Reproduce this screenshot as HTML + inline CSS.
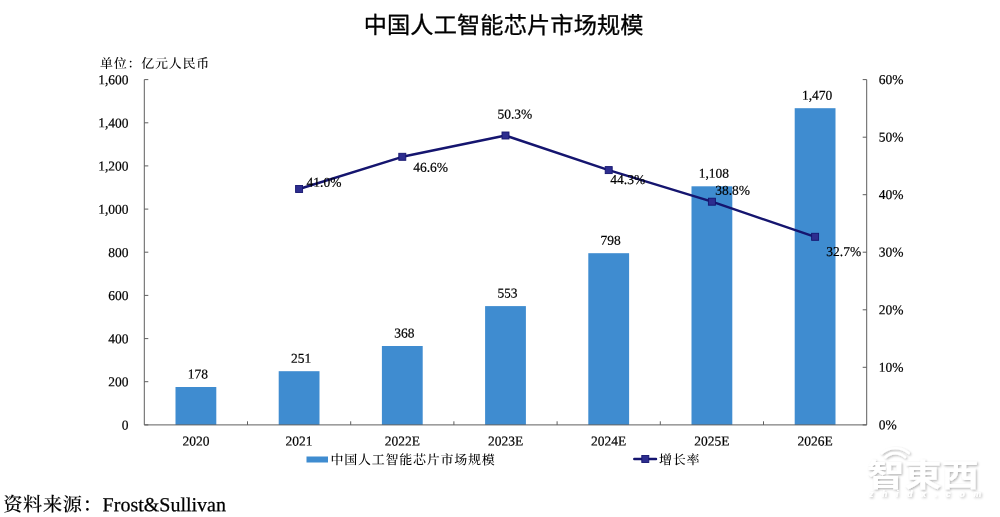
<!DOCTYPE html>
<html lang="zh"><head><meta charset="utf-8"><title>中国人工智能芯片市场规模</title>
<style>
html,body{margin:0;padding:0;background:#fff;}
body{width:1000px;height:517px;overflow:hidden;position:relative;}
svg{position:absolute;left:0;top:0;}
.n{font-family:"Liberation Serif","Noto Serif CJK SC",serif;font-size:13.5px;fill:#000;stroke:#000;stroke-width:0.2px;}
.c{font-family:"Liberation Serif","Noto Serif CJK SC",serif;font-size:13px;letter-spacing:0.75px;fill:#000;font-weight:500;}
.t{font-family:"Liberation Sans","Noto Sans CJK SC",sans-serif;font-weight:400;font-size:23.2px;fill:#000;stroke:#000;stroke-width:0.3px;letter-spacing:0.15px;}
.s{font-family:"Liberation Serif","Noto Serif CJK SC",serif;font-size:20px;fill:#000;}
.sc{font-size:19.2px;letter-spacing:0.7px;font-weight:500;stroke-width:0.1px;}
.s{stroke:#000;stroke-width:0.25px;}
.w{font-family:"Liberation Sans","Noto Sans CJK TC","Noto Sans CJK SC",sans-serif;font-weight:700;fill:#fff;}
</style></head><body>
<svg width="1000" height="517" viewBox="0 0 1000 517">
<defs><filter id="ds" x="-10%" y="-20%" width="125%" height="150%"><feDropShadow dx="1.2" dy="1.2" stdDeviation="1.1" flood-color="#000" flood-opacity="0.3"/></filter></defs>
<rect width="1000" height="517" fill="#fff"/>

<text class="t" x="503.7" y="33.4" text-anchor="middle" transform="rotate(0.03 503.7 33.4)">中国人工智能芯片市场规模</text>
<text class="c" x="100.0" y="68.0" transform="rotate(0.03 100.0 68.0)">单位：亿元人民币</text>
<rect x="175.5" y="387.0" width="40.8" height="37.9" fill="#3f8cd0"/>
<rect x="278.7" y="371.2" width="40.8" height="53.7" fill="#3f8cd0"/>
<rect x="381.9" y="346.0" width="40.8" height="78.9" fill="#3f8cd0"/>
<rect x="485.1" y="306.1" width="40.8" height="118.8" fill="#3f8cd0"/>
<rect x="588.3" y="253.2" width="40.8" height="171.7" fill="#3f8cd0"/>
<rect x="691.5" y="186.3" width="40.8" height="238.6" fill="#3f8cd0"/>
<rect x="794.7" y="108.2" width="40.8" height="316.7" fill="#3f8cd0"/>
<g stroke="#5e5e5e" stroke-width="1" fill="none">
<path d="M144.3 79.6V424.9H866.7V79.6"/>
<path d="M144.3 424.9h4"/>
<path d="M144.3 381.7h4"/>
<path d="M144.3 338.6h4"/>
<path d="M144.3 295.4h4"/>
<path d="M144.3 252.2h4"/>
<path d="M144.3 209.1h4"/>
<path d="M144.3 165.9h4"/>
<path d="M144.3 122.8h4"/>
<path d="M144.3 79.6h4"/>
<path d="M866.7 424.9h-4"/>
<path d="M866.7 367.3h-4"/>
<path d="M866.7 309.8h-4"/>
<path d="M866.7 252.2h-4"/>
<path d="M866.7 194.7h-4"/>
<path d="M866.7 137.2h-4"/>
<path d="M866.7 79.6h-4"/>
<path d="M247.5 424.9v-3.6"/>
<path d="M350.7 424.9v-3.6"/>
<path d="M453.9 424.9v-3.6"/>
<path d="M557.1 424.9v-3.6"/>
<path d="M660.3 424.9v-3.6"/>
<path d="M763.5 424.9v-3.6"/>
</g>
<text class="n" x="128.6" y="429.5" text-anchor="end" transform="rotate(0.03 128.6 429.5)">0</text>
<text class="n" x="128.6" y="386.3" text-anchor="end" transform="rotate(0.03 128.6 386.3)">200</text>
<text class="n" x="128.6" y="343.2" text-anchor="end" transform="rotate(0.03 128.6 343.2)">400</text>
<text class="n" x="128.6" y="300.0" text-anchor="end" transform="rotate(0.03 128.6 300.0)">600</text>
<text class="n" x="128.6" y="256.9" text-anchor="end" transform="rotate(0.03 128.6 256.9)">800</text>
<text class="n" x="128.6" y="213.7" text-anchor="end" transform="rotate(0.03 128.6 213.7)">1,000</text>
<text class="n" x="128.6" y="170.5" text-anchor="end" transform="rotate(0.03 128.6 170.5)">1,200</text>
<text class="n" x="128.6" y="127.4" text-anchor="end" transform="rotate(0.03 128.6 127.4)">1,400</text>
<text class="n" x="128.6" y="84.2" text-anchor="end" transform="rotate(0.03 128.6 84.2)">1,600</text>
<text class="n" x="878.8" y="429.3" transform="rotate(0.03 878.8 429.3)">0%</text>
<text class="n" x="878.8" y="371.7" transform="rotate(0.03 878.8 371.7)">10%</text>
<text class="n" x="878.8" y="314.2" transform="rotate(0.03 878.8 314.2)">20%</text>
<text class="n" x="878.8" y="256.6" transform="rotate(0.03 878.8 256.6)">30%</text>
<text class="n" x="878.8" y="199.1" transform="rotate(0.03 878.8 199.1)">40%</text>
<text class="n" x="878.8" y="141.6" transform="rotate(0.03 878.8 141.6)">50%</text>
<text class="n" x="878.8" y="84.0" transform="rotate(0.03 878.8 84.0)">60%</text>
<text class="n" x="195.9" y="445.6" text-anchor="middle" transform="rotate(0.03 195.9 445.6)">2020</text>
<text class="n" x="299.1" y="445.6" text-anchor="middle" transform="rotate(0.03 299.1 445.6)">2021</text>
<text class="n" x="402.3" y="445.6" text-anchor="middle" transform="rotate(0.03 402.3 445.6)">2022E</text>
<text class="n" x="505.5" y="445.6" text-anchor="middle" transform="rotate(0.03 505.5 445.6)">2023E</text>
<text class="n" x="608.7" y="445.6" text-anchor="middle" transform="rotate(0.03 608.7 445.6)">2024E</text>
<text class="n" x="711.9" y="445.6" text-anchor="middle" transform="rotate(0.03 711.9 445.6)">2025E</text>
<text class="n" x="815.1" y="445.6" text-anchor="middle" transform="rotate(0.03 815.1 445.6)">2026E</text>
<text class="n" x="197.9" y="378.5" text-anchor="middle" transform="rotate(0.03 197.9 378.5)">178</text>
<text class="n" x="301.1" y="362.7" text-anchor="middle" transform="rotate(0.03 301.1 362.7)">251</text>
<text class="n" x="404.3" y="337.5" text-anchor="middle" transform="rotate(0.03 404.3 337.5)">368</text>
<text class="n" x="507.5" y="297.6" text-anchor="middle" transform="rotate(0.03 507.5 297.6)">553</text>
<text class="n" x="610.7" y="244.7" text-anchor="middle" transform="rotate(0.03 610.7 244.7)">798</text>
<text class="n" x="713.9" y="177.8" text-anchor="middle" transform="rotate(0.03 713.9 177.8)">1,108</text>
<text class="n" x="817.1" y="99.7" text-anchor="middle" transform="rotate(0.03 817.1 99.7)">1,470</text>
<polyline fill="none" stroke="#15156f" stroke-width="2.45" stroke-linejoin="round" stroke-linecap="round" points="299.1,189.0 402.3,156.8 505.5,135.5 608.7,170.1 711.9,201.7 815.1,236.8"/>
<rect x="295.6" y="185.5" width="7" height="7" fill="#2d2d8f" stroke="#15156f" stroke-width="0.9"/>
<rect x="398.8" y="153.3" width="7" height="7" fill="#2d2d8f" stroke="#15156f" stroke-width="0.9"/>
<rect x="502.0" y="132.0" width="7" height="7" fill="#2d2d8f" stroke="#15156f" stroke-width="0.9"/>
<rect x="605.2" y="166.6" width="7" height="7" fill="#2d2d8f" stroke="#15156f" stroke-width="0.9"/>
<rect x="708.4" y="198.2" width="7" height="7" fill="#2d2d8f" stroke="#15156f" stroke-width="0.9"/>
<rect x="811.6" y="233.3" width="7" height="7" fill="#2d2d8f" stroke="#15156f" stroke-width="0.9"/>
<text class="n" x="306.6" y="186.7" transform="rotate(0.03 306.6 186.7)">41.0%</text>
<text class="n" x="413.2" y="171.8" transform="rotate(0.03 413.2 171.8)">46.6%</text>
<text class="n" x="497.4" y="118.6" transform="rotate(0.03 497.4 118.6)">50.3%</text>
<text class="n" x="610.3" y="184.0" transform="rotate(0.03 610.3 184.0)">44.3%</text>
<text class="n" x="715.2" y="194.7" transform="rotate(0.03 715.2 194.7)">38.8%</text>
<text class="n" x="826.3" y="256.0" transform="rotate(0.03 826.3 256.0)">32.7%</text>
<rect x="306.5" y="456.5" width="21.5" height="6" fill="#3f8cd0"/>
<text class="c" x="330.5" y="464.3" transform="rotate(0.03 330.5 464.3)">中国人工智能芯片市场规模</text>
<path d="M634.3 459H656" stroke="#15156f" stroke-width="2.45" stroke-linecap="round"/>
<rect x="641.8" y="455.5" width="7" height="7" fill="#2d2d8f" stroke="#15156f" stroke-width="0.9"/>
<text class="c" x="659.1" y="464.3" transform="rotate(0.03 659.1 464.3)">增长率</text>
<text class="s" x="3.2" y="511.1" transform="rotate(0.03 3.2 511.1)"><tspan class="sc">资料来源：</tspan><tspan x="102.6">Frost&amp;Sullivan</tspan></text>
<g filter="url(#ds)">
<text class="w" x="0" y="0" font-size="31" transform="translate(867 486.3) scale(1.2 1)">智東西</text>
<text class="w" x="869" y="497.3" font-size="8.6" font-style="italic" letter-spacing="8.75">zhidx.com</text>
<path d="M881.8 453.2a20.4 20.4 0 0 1 27 0M885.6 457.2a14 14 0 0 1 19.4 0" fill="none" stroke="#fff" stroke-width="2.4" stroke-linecap="round"/>
</g>
</svg></body></html>
